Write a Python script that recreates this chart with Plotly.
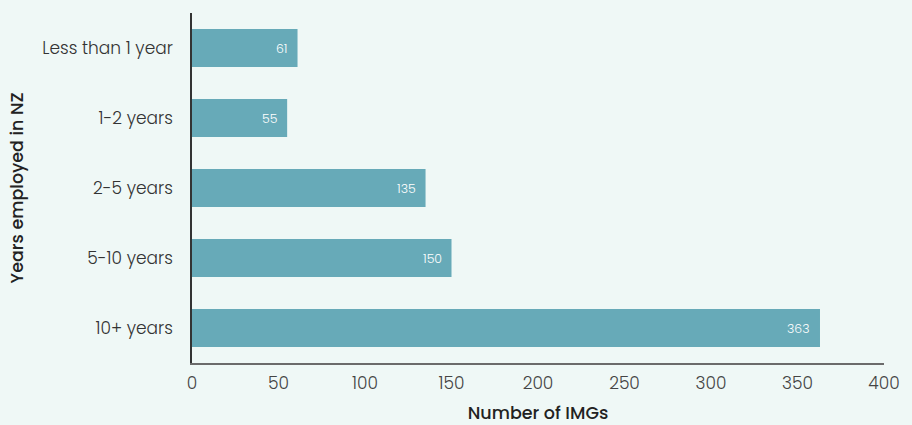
import plotly.graph_objects as go

categories = ["Less than 1 year", "1-2 years", "2-5 years", "5-10 years", "10+ years"]
counts = [61, 55, 135, 150, 363]
x_ticks = [0, 50, 100, 150, 200, 250, 300, 350, 400]

bg = "#eff8f6"
bar_color = "#67aab8"
font_family = "Poppins, Lato, 'Open Sans', sans-serif"

fig = go.Figure(
    go.Bar(
        y=categories,
        x=counts,
        orientation="h",
        marker=dict(color=bar_color, line=dict(width=0)),
        hoverinfo="x+y",
    )
)

# value labels just inside the end of each bar
for cat, val in zip(categories, counts):
    fig.add_annotation(
        x=val, y=cat, text=str(val), showarrow=False,
        xanchor="right", xshift=-8,
        font=dict(color="white", size=12.5, family=font_family, weight=300),
    )

fig.update_layout(
    width=912,
    height=425,
    margin=dict(l=192, r=28, t=13, b=62),
    paper_bgcolor=bg,
    plot_bgcolor=bg,
    bargap=0.46,
    showlegend=False,
    font=dict(family=font_family, color="#333333", size=17),
    xaxis=dict(
        range=[0, 400],
        tickvals=x_ticks,
        ticktext=[str(t) for t in x_ticks],
        showgrid=False,
        zeroline=False,
        showline=True,
        linecolor="#6b6b6b",
        linewidth=1.5,
        ticks="",
        automargin=False,
        ticklabelstandoff=4,
        tickfont=dict(size=17, color="#444444", weight=300),
        title=dict(text="Number of IMGs", font=dict(size=17.5, color="#222222", weight=500), standoff=26),
    ),
    yaxis=dict(
        autorange="reversed",
        showgrid=False,
        zeroline=False,
        showline=True,
        linecolor="#333333",
        linewidth=1.5,
        ticks="",
        automargin=False,
        ticklabelstandoff=14,
        tickfont=dict(size=17, color="#333333", weight=300),
        title=dict(text="Years employed in NZ", font=dict(size=17.5, color="#222222", weight=500), standoff=14),
    ),
)

fig.write_html("out.html")
